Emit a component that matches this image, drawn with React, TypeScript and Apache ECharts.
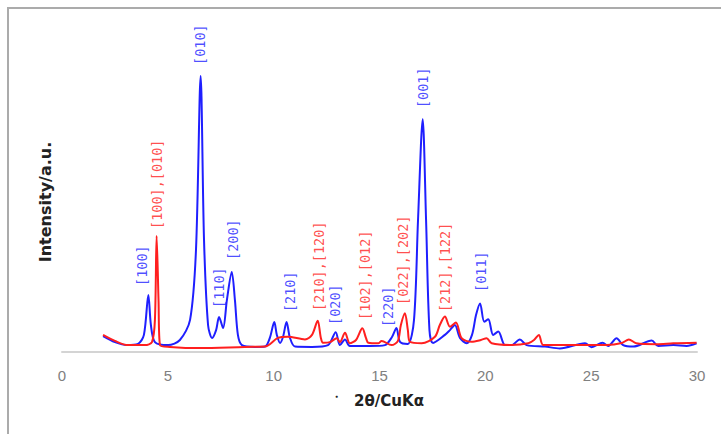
import React, { useEffect, useRef } from "react";
import * as echarts from "echarts";

// 2θ / intensity pairs (intensity in arbitrary units)
const blueSeries: [number, number][] = [
  [1.94, 5.3], [2.5, 3.3], [3.07, 2.3], [3.59, 2.7], [3.87, 5.7], [4.08, 19], [4.2, 9],
  [4.39, 3.3], [5.01, 2.3], [5.57, 4], [6.05, 10.7], [6.33, 34], [6.55, 92], [6.71, 37.3],
  [6.9, 9], [7.09, 4.7], [7.28, 7.3], [7.42, 11.7], [7.61, 8], [7.79, 17.3], [8.02, 26.7],
  [8.17, 17.3], [8.31, 5.7], [8.5, 2.3], [9.12, 1.7], [9.59, 1.8], [9.82, 4.7], [10.03, 10],
  [10.15, 5.7], [10.3, 3], [10.44, 5], [10.61, 10], [10.77, 4.7], [11.01, 1.8], [11.81, 1.7],
  [12.57, 2.3], [12.93, 6.6], [13.13, 2.3], [13.37, 4.2], [13.6, 2], [14.55, 2], [15.26, 2.3],
  [15.59, 5], [15.8, 8], [15.97, 3.4], [16.34, 2.7], [16.63, 10.7], [16.82, 44], [17.04, 77.6],
  [17.2, 44], [17.36, 7.3], [17.53, 3], [18.09, 5.7], [18.33, 7.3], [18.56, 9], [18.8, 4.7],
  [19.12, 2.9], [19.37, 5.7], [19.56, 12.3], [19.75, 16.2], [19.95, 10.1], [20.14, 10.9],
  [20.37, 5.7], [20.61, 6.8], [20.93, 2.3], [21.24, 2.3], [21.63, 4.2], [21.95, 2.3],
  [22.82, 1.8], [23.52, 1.2], [24.71, 2.9], [25.02, 1.6], [25.54, 3.1], [25.81, 2],
  [26.2, 4.6], [26.51, 2.3], [26.99, 1.8], [27.86, 3.8], [28.17, 2], [28.88, 2.3],
  [29.51, 2], [29.98, 2.9],
];

const redSeries: [number, number][] = [
  [1.94, 5.7], [2.5, 3.7], [3.12, 2.3], [3.92, 2.3], [4.25, 3.3], [4.39, 10.7], [4.47, 38.7],
  [4.56, 17.3], [4.63, 2.3], [5.1, 1.7], [6.52, 1.3], [8.64, 1.7], [9.59, 1.8], [10.2, 4.7],
  [10.67, 5.1], [11.48, 4.2], [11.81, 5.7], [12.08, 10.4], [12.23, 4.7], [12.33, 3.1],
  [12.66, 3.3], [12.98, 4.6], [13.13, 3.3], [13.37, 6.4], [13.6, 2.9], [13.89, 4],
  [14.19, 7.9], [14.36, 4.7], [14.47, 3.1], [14.94, 2.9], [15.1, 3.7], [15.57, 2.3],
  [15.87, 3.7], [16.01, 9], [16.2, 12.9], [16.34, 7.3], [16.44, 3.4], [16.99, 2.9],
  [17.62, 5.1], [17.85, 9], [18.09, 11.8], [18.33, 8.4], [18.61, 9.8], [18.88, 4.6],
  [19.35, 3.4], [19.79, 4], [20.06, 4.6], [20.3, 2.9], [21.24, 2.3], [22.03, 2.9],
  [22.3, 4], [22.53, 5.7], [22.74, 2.3], [24.15, 2.3], [25.73, 2.3], [26.45, 3],
  [26.78, 4.2], [27.13, 2.9], [28.09, 2.6], [28.88, 2.9], [29.98, 3.1],
];

// peak labels (text, 2θ, intensity at label foot)
const blueLabelText = ["[100]", "[010]", "[110]", "[200]", "[210]", "[020]", "[220]", "[001]", "[011]"];
const blueLabelX = [3.8, 6.52, 7.42, 8.08, 10.77, 12.9, 15.4, 17.05, 19.79];
const blueLabelY = [22, 95.7, 14.7, 30.7, 13.3, 9, 8.3, 81.3, 20];

const redLabelText = ["[100],[010]", "[210],[120]", "[102],[012]", "[022],[202]", "[212],[122]"];
const redLabelX = [4.49, 12.14, 14.31, 16.11, 18.09];
const redLabelY = [41, 13.7, 10.7, 15.7, 13.3];

const xTicks = { min: 0, max: 30, interval: 5 };

const BLUE = "#1f1fff";
const RED = "#ff1f1f";

function labelSeries(texts: string[], xs: number[], ys: number[], color: string) {
  return {
    type: "scatter",
    symbolSize: 0,
    silent: true,
    z: 5,
    data: texts.map((t, i) => ({ name: t, value: [xs[i], ys[i]] })),
    label: {
      show: true,
      position: "inside",
      rotate: 90,
      align: "left",
      verticalAlign: "middle",
      formatter: (p: any) => p.name,
      color,
      fontFamily: "DejaVu Sans Mono",
      fontSize: 13.5,
    },
  };
}

export default function App() {
  const ref = useRef<HTMLDivElement>(null);
  useEffect(() => {
    if (!ref.current) return;
    const chart = echarts.init(ref.current, undefined, { renderer: "svg" });
    chart.setOption({
      animation: false,
      backgroundColor: "#ffffff",
      grid: { left: 62, right: 24, top: 52, bottom: 82 },
      xAxis: {
        type: "value",
        min: xTicks.min,
        max: xTicks.max,
        interval: xTicks.interval,
        axisLine: { show: true, lineStyle: { color: "#d4d4d4", width: 2 } },
        axisTick: { show: false },
        splitLine: { show: false },
        axisLabel: { color: "#808080", fontFamily: "Liberation Sans", fontSize: 15, margin: 16 },
        name: "{d|●}{t|2θ/CuKα}",
        nameLocation: "middle",
        nameGap: 41,
        nameTextStyle: {
          rich: {
            d: { fontSize: 5, color: "#222", padding: [0, 16, 10, 0] },
            t: { fontSize: 15, fontWeight: "bold", color: "#222", fontFamily: "DejaVu Sans" },
          },
        },
      },
      yAxis: {
        type: "value",
        min: 0,
        max: 100,
        axisLine: { show: false },
        axisTick: { show: false },
        axisLabel: { show: false },
        splitLine: { show: false },
        name: "Intensity/a.u.",
        nameLocation: "middle",
        nameGap: 9,
        nameTextStyle: { fontSize: 16, fontWeight: "bold", color: "#222", fontFamily: "DejaVu Sans" },
      },
      graphic: [
        {
          type: "rect",
          shape: { x: 8, y: 8, width: 800, height: 500 },
          style: { fill: "none", stroke: "#ababab", lineWidth: 2 },
          silent: true,
        },
      ],
      series: [
        {
          type: "line",
          data: blueSeries,
          smooth: 0.3,
          showSymbol: false,
          lineStyle: { color: BLUE, width: 2 },
          z: 2,
        },
        {
          type: "line",
          data: redSeries,
          smooth: 0.3,
          showSymbol: false,
          lineStyle: { color: RED, width: 2 },
          z: 3,
        },
        labelSeries(blueLabelText, blueLabelX, blueLabelY, BLUE),
        labelSeries(redLabelText, redLabelX, redLabelY, RED),
      ],
    });
    return () => chart.dispose();
  }, []);
  return (
    <div
      ref={ref}
      style={{ position: "absolute", left: 0, top: 0, width: 721, height: 434 }}
    />
  );
}
